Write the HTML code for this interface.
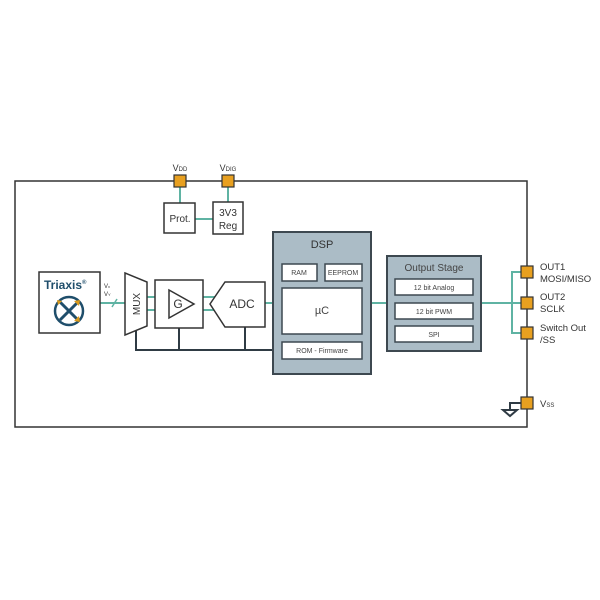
<!DOCTYPE html>
<html><head><style>body{margin:0;background:#fff}svg{display:block}</style></head><body>
<svg width="600" height="600" viewBox="0 0 600 600" font-family="Liberation Sans, sans-serif">
<rect width="600" height="600" fill="#fff"/>
<g stroke="#5fb3a3" stroke-width="2" fill="none">
<line x1="180" y1="187" x2="180" y2="203"/>
<line x1="228" y1="187" x2="228" y2="202"/>
<line x1="195" y1="219" x2="213" y2="219"/>
<line x1="100" y1="303" x2="128" y2="303"/>
<line x1="147" y1="297" x2="225" y2="297"/>
<line x1="147" y1="310" x2="225" y2="310"/>
<line x1="265" y1="303" x2="273" y2="303"/>
<line x1="371" y1="303" x2="387" y2="303"/>
<line x1="481" y1="303" x2="521" y2="303"/>
<polyline points="521,272 512,272 512,333 521,333"/>
</g>
<line x1="112" y1="307" x2="117" y2="299" stroke="#5fb3a3" stroke-width="1.5"/>
<g stroke="#2f3b44" stroke-width="2" fill="none">
<line x1="135" y1="350" x2="273" y2="350"/>
<line x1="136" y1="330" x2="136" y2="350"/>
<line x1="179" y1="328" x2="179" y2="350"/>
<line x1="245" y1="327" x2="245" y2="350"/>
<polyline points="521,403 510,403 510,410"/>
<polygon points="503,410 517,410 510,416"/>
</g>
<rect x="15" y="181" width="512" height="246" fill="none" stroke="#333" stroke-width="1.5"/>
<g fill="#fff" stroke="#333" stroke-width="1.5">
<rect x="164" y="203" width="31" height="30"/>
<rect x="213" y="202" width="30" height="32"/>
<rect x="39" y="272" width="61" height="61"/>
<polygon points="125,273 147,282 147,326 125,335"/>
<rect x="155" y="280" width="48" height="48"/>
<polygon points="169,290 169,318 194,304"/>
<polygon points="210,304 225,282 265,282 265,327 225,327"/>
</g>
<g font-size="10" fill="#333" text-anchor="middle">
<text x="180" y="222">Prot.</text>
<text x="228" y="216">3V3</text><text x="228" y="229">Reg</text>
<text x="242" y="308" font-size="12">ADC</text>
<text x="178" y="308" font-size="12">G</text>
<text x="140" y="304" font-size="10" transform="rotate(-90 140 304)">MUX</text>
<text x="180" y="171" font-size="9">V<tspan font-size="6">DD</tspan></text>
<text x="228" y="171" font-size="9">V<tspan font-size="6">DIG</tspan></text>
</g>
<text x="104" y="288" font-size="6" fill="#333">V<tspan font-size="4">x</tspan></text>
<text x="104" y="296" font-size="6" fill="#333">V<tspan font-size="4">Y</tspan></text>
<text x="44" y="289" font-size="12" fill="#1f4e6b" font-weight="bold">Triaxis<tspan font-size="6" dy="-5">®</tspan></text>
<circle cx="69" cy="311" r="14" fill="none" stroke="#1f4e6b" stroke-width="2.5"/>
<line x1="60" y1="302" x2="78" y2="320" stroke="#1f4e6b" stroke-width="3"/>
<line x1="78" y1="302" x2="60" y2="320" stroke="#1f4e6b" stroke-width="3"/>
<g fill="#d99a1c"><polygon points="80,300 74,301 79,306"/><polygon points="80,322 74,321 79,316"/><polygon points="58,305 62,301 57,300"/></g>
<rect x="273" y="232" width="98" height="142" fill="#abbcc6" stroke="#3d4850" stroke-width="2"/>
<text x="322" y="248" font-size="11" fill="#333" text-anchor="middle">DSP</text>
<g fill="#fff" stroke="#3d4850" stroke-width="1.5">
<rect x="282" y="264" width="35" height="17"/><rect x="325" y="264" width="37" height="17"/>
<rect x="282" y="288" width="80" height="46"/><rect x="282" y="342" width="80" height="17"/>
<rect x="387" y="256" width="94" height="95" fill="#abbcc6" stroke-width="2"/>
<rect x="395" y="279" width="78" height="16"/><rect x="395" y="303" width="78" height="16"/><rect x="395" y="326" width="78" height="16"/>
</g>
<g font-size="7" fill="#444" text-anchor="middle">
<text x="299" y="275">RAM</text><text x="343" y="275">EEPROM</text>
<text x="322" y="314" font-size="11">µC</text><text x="322" y="353">ROM - Firmware</text>
<text x="434" y="271" font-size="10">Output Stage</text>
<text x="434" y="290">12 bit Analog</text><text x="434" y="314">12 bit PWM</text><text x="434" y="337">SPI</text>
</g>
<g fill="#e8a020" stroke="#333" stroke-width="1.2">
<rect x="174" y="175" width="12" height="12"/><rect x="222" y="175" width="12" height="12"/>
<rect x="521" y="266" width="12" height="12"/><rect x="521" y="297" width="12" height="12"/>
<rect x="521" y="327" width="12" height="12"/><rect x="521" y="397" width="12" height="12"/>
</g>
<g font-size="9.5" fill="#333">
<text x="540" y="270">OUT1</text><text x="540" y="282">MOSI/MISO</text>
<text x="540" y="300">OUT2</text><text x="540" y="312">SCLK</text>
<text x="540" y="331">Switch Out</text><text x="540" y="343">/SS</text>
<text x="540" y="407">V<tspan font-size="6">SS</tspan></text>
</g>
</svg>
</body></html>
